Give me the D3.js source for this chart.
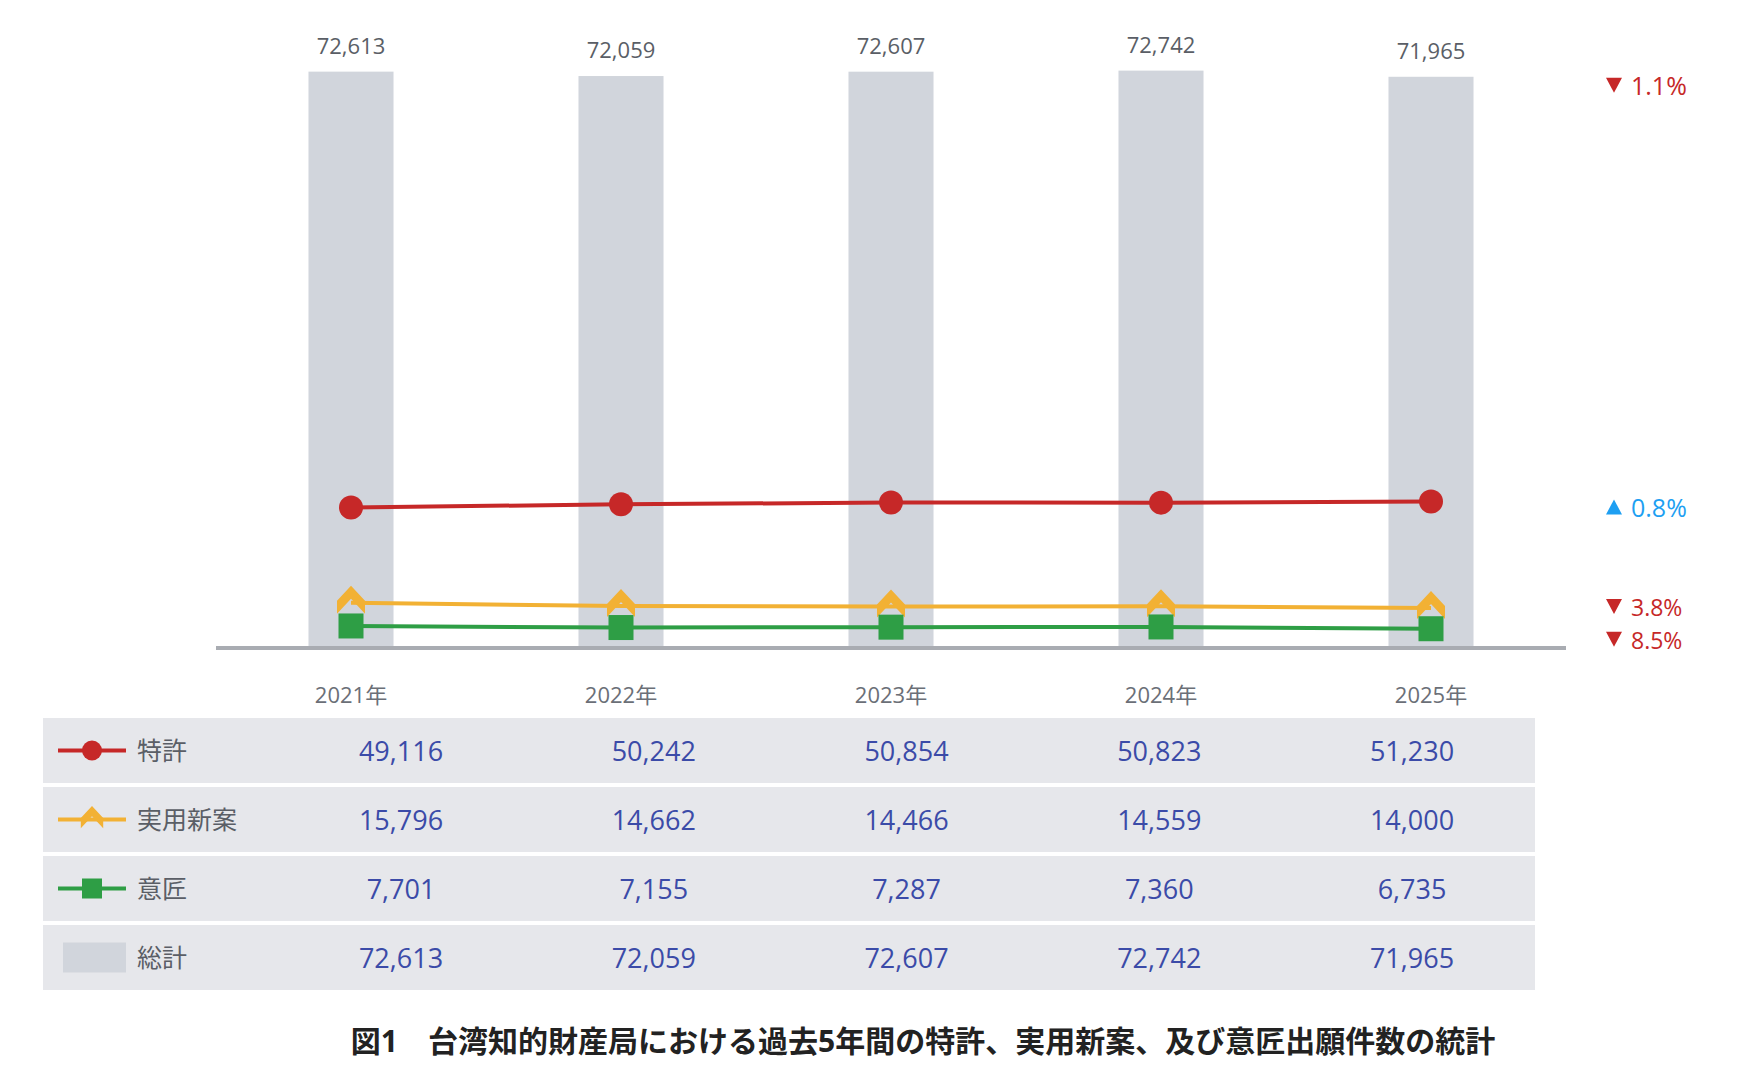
<!DOCTYPE html>
<html>
<head>
<meta charset="utf-8">
<script src="https://cdn.jsdelivr.net/npm/d3@7"></script>
<style>
	body { margin: 0; background: #fff; }
	text { font-family: 'Open Sans', 'Noto Sans CJK JP', sans-serif; }
</style>
</head>
<body>
<div id="chart"></div>
<script>
// data
var years = ['2021年', '2022年', '2023年', '2024年', '2025年']
var patent = [49116, 50242, 50854, 50823, 51230]
var utility = [15796, 14662, 14466, 14559, 14000]
var design = [7701, 7155, 7287, 7360, 6735]
var total = [72613, 72059, 72607, 72742, 71965]
var seriesNames = ['特許', '実用新案', '意匠', '総計']
var caption = '図1　台湾知的財産局における過去5年間の特許、実用新案、及び意匠出願件数の統計'

var width = 1737,
	height = 1068,
	baseY = 648,
	topY = 13

var svg = d3.select('#chart').append('svg')
	.attr('width', width)
	.attr('height', height)

var x = d3.scaleBand()
	.domain(years)
	.range([216, 1566])
	.paddingInner(0.685)
	.paddingOuter(0.3425)

var yBar = d3.scaleLinear().domain([0, 80000]).range([baseY, topY])
var yLine = d3.scaleLinear().domain([0, 222000]).range([baseY, topY])

var cx = function(d, i) { return x(years[i]) + x.bandwidth() / 2 }

// bars
svg.append('g').selectAll('rect')
	.data(total)
	.enter().append('rect')
	.attr('x', function(d, i) { return x(years[i]) })
	.attr('y', function(d) { return yBar(d) })
	.attr('width', x.bandwidth())
	.attr('height', function(d) { return baseY - yBar(d) })
	.attr('fill', '#d1d5dc')

svg.append('g').selectAll('text')
	.data(total)
	.enter().append('text')
	.attr('x', cx)
	.attr('y', function(d) { return yBar(d) - 18 })
	.attr('text-anchor', 'middle')
	.attr('font-size', 22)
	.attr('fill', '#5a5e66')
	.text(function(d) { return d3.format(',')(d) })

// baseline
svg.append('line')
	.attr('x1', 216).attr('x2', 1566)
	.attr('y1', baseY).attr('y2', baseY)
	.attr('stroke', '#a9acb2')
	.attr('stroke-width', 4)

// year labels
svg.append('g').selectAll('text')
	.data(years)
	.enter().append('text')
	.attr('x', function(d) { return x(d) + x.bandwidth() / 2 })
	.attr('y', 703)
	.attr('text-anchor', 'middle')
	.attr('font-size', 22)
	.attr('fill', '#6b6f77')
	.text(function(d) { return d })

var chevron = 'M0,-17 L14,-2 L14,11 L0,-4 L-14,11 L-14,-2 Z'

var series = [
	{ name: seriesNames[0], values: patent, color: '#c62828', marker: 'circle' },
	{ name: seriesNames[1], values: utility, color: '#f2b134', marker: 'chevron' },
	{ name: seriesNames[2], values: design, color: '#2e9e45', marker: 'square' }
]

function drawMarker(g, s, px, py, r) {
	if (s.marker == 'circle') {
		g.append('circle').attr('cx', px).attr('cy', py).attr('r', r).attr('fill', s.color)
	} else if (s.marker == 'square') {
		g.append('rect').attr('x', px - r).attr('y', py - r)
			.attr('width', r * 2).attr('height', r * 2).attr('fill', s.color)
	} else {
		g.append('path').attr('d', chevron)
			.attr('transform', 'translate(' + px + ',' + py + ') scale(' + (r / 12.5) + ')')
			.attr('fill', s.color)
	}
}

var line = d3.line()
	.x(function(d, i) { return cx(d, i) })
	.y(function(d) { return yLine(d) })

series.forEach(function(s) {
	var g = svg.append('g')
	g.append('path')
		.attr('d', line(s.values))
		.attr('fill', 'none')
		.attr('stroke', s.color)
		.attr('stroke-width', 4)
	s.values.forEach(function(v, i) {
		drawMarker(g, s, cx(v, i), yLine(v), s.marker == 'circle' ? 12 : 12.5)
	})
})

// change labels (2025 vs 2024)
var changes = [
	{ values: total, y: yBar(total[4]) + 18, size: 25 },
	{ values: patent, y: yLine(patent[4]) + 16, size: 25 },
	{ values: utility, y: yLine(utility[4]) + 8, size: 23 },
	{ values: design, y: yLine(design[4]) + 20, size: 23 }
]
changes.forEach(function(c) {
	var v = c.values
	var pct = (v[4] - v[3]) / v[3] * 100
	var up = pct >= 0
	var col = up ? '#1e9ff2' : '#c62828'
	var g = svg.append('g').attr('transform', 'translate(1614,' + c.y + ')')
	g.append('path')
		.attr('d', up ? 'M0,-18 L8,-3 L-8,-3 Z' : 'M-8,-17 L8,-17 L0,-2 Z')
		.attr('fill', col)
	g.append('text')
		.attr('x', 17)
		.attr('font-size', c.size)
		.attr('fill', col)
		.text(Math.abs(pct).toFixed(1) + '%')
})

// data table
var col = d3.scalePoint().domain(years).range([401, 1412])
var rows = [patent, utility, design, total]
var rowTop = 718, rowH = 65, rowStep = 69

rows.forEach(function(vals, r) {
	var ry = rowTop + r * rowStep
	var mid = ry + rowH / 2
	var g = svg.append('g')
	g.append('rect')
		.attr('x', 43).attr('y', ry)
		.attr('width', 1492).attr('height', rowH)
		.attr('fill', '#e6e7eb')
	if (r < 3) {
		g.append('line')
			.attr('x1', 58).attr('x2', 126)
			.attr('y1', mid).attr('y2', mid)
			.attr('stroke', series[r].color)
			.attr('stroke-width', 4)
		drawMarker(g, series[r], 92, mid, 10)
	} else {
		g.append('rect')
			.attr('x', 63).attr('y', mid - 15)
			.attr('width', 63).attr('height', 30)
			.attr('fill', '#d1d5dc')
	}
	g.append('text')
		.attr('x', 137).attr('y', mid + 9)
		.attr('font-size', 25)
		.attr('fill', '#5a5e66')
		.text(seriesNames[r])
	g.selectAll('text.val')
		.data(vals)
		.enter().append('text')
		.attr('class', 'val')
		.attr('x', function(d, i) { return col(years[i]) })
		.attr('y', mid + 10)
		.attr('text-anchor', 'middle')
		.attr('font-size', 27)
		.attr('fill', '#3b4ba8')
		.text(function(d) { return d3.format(',')(d) })
})

// caption
svg.append('text')
	.attr('x', 923).attr('y', 1052)
	.attr('text-anchor', 'middle')
	.attr('font-size', 30)
	.attr('font-weight', 'bold')
	.attr('fill', '#222')
	.text(caption)
</script>
</body>
</html>
